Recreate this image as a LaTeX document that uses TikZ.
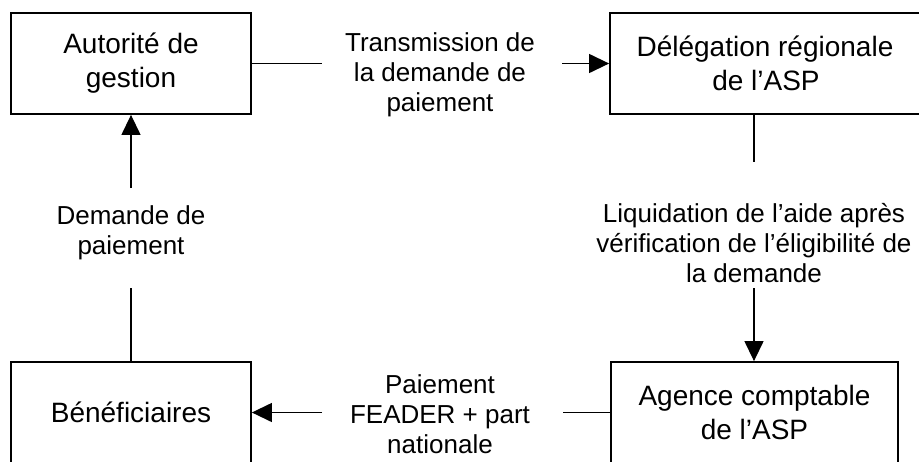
\documentclass[tikz,border=0pt]{standalone}
\usepackage{fontspec}
\setmainfont{Liberation Sans}
\usetikzlibrary{arrows.meta}
\begin{document}
\begin{tikzpicture}[x=1pt,y=-1pt,
  box/.style={draw=black,line width=1.8pt,rectangle,inner sep=0pt,align=center,
    font=\fontsize{28}{34}\selectfont},
  lbl/.style={inner sep=0pt,align=center,font=\fontsize{26}{30}\selectfont},
  conn/.style={line width=1.3pt,draw=black},
  arr/.style={conn,-{Triangle[length=20pt,width=19pt]}}]
\useasboundingbox[fill=white] (0,0) rectangle (919,461);
% boxes
\node[box,minimum width=240pt,minimum height=101pt] (ag) at (131,63.5) {Autorité de\\gestion};
\node[box,minimum width=312pt,minimum height=101pt] (dr) at (766,63.5) {\hspace*{-2pt}Délégation régionale\\de l’ASP};
\node[box,minimum width=287pt,minimum height=101pt] (ac) at (754.5,412.5) {Agence comptable\\de l’ASP};
\node[box,minimum width=240pt,minimum height=101pt] (be) at (131,412.5) {Bénéficiaires};
% labels
\node[lbl] (l1) at (440,75) {Transmission de\\la demande de\\paiement};
\node[lbl] (l2) at (754,243) {Liquidation de l’aide après\\vérification de l’éligibilité de\\la demande};
\node[lbl] (l3) at (131,232.5) {Demande de\\paiement};
\node[lbl] (l4) at (440,414.5) {Paiement\\FEADER + part\\nationale};
% free ends
\coordinate (c1) at (322,63.5);
\coordinate (c2) at (562,63.5);
\coordinate (c3) at (754,162);
\coordinate (c4) at (754,288);
\coordinate (c5) at (563,412.5);
\coordinate (c6) at (322,412.5);
\coordinate (c7) at (131,288);
\coordinate (c8) at (131,188);
% connectors
\draw[conn] (ag.east) -- (c1);
\draw[arr] (c2) -- (dr.west);
\draw[conn] (dr.south -| c3) -- (c3);
\draw[arr] (c4) -- (c4 |- ac.north);
\draw[conn] (ac.west) -- (c5);
\draw[arr] (c6) -- (be.east);
\draw[conn] (be.north) -- (c7);
\draw[arr] (c8) -- (ag.south);
\end{tikzpicture}
\end{document}
